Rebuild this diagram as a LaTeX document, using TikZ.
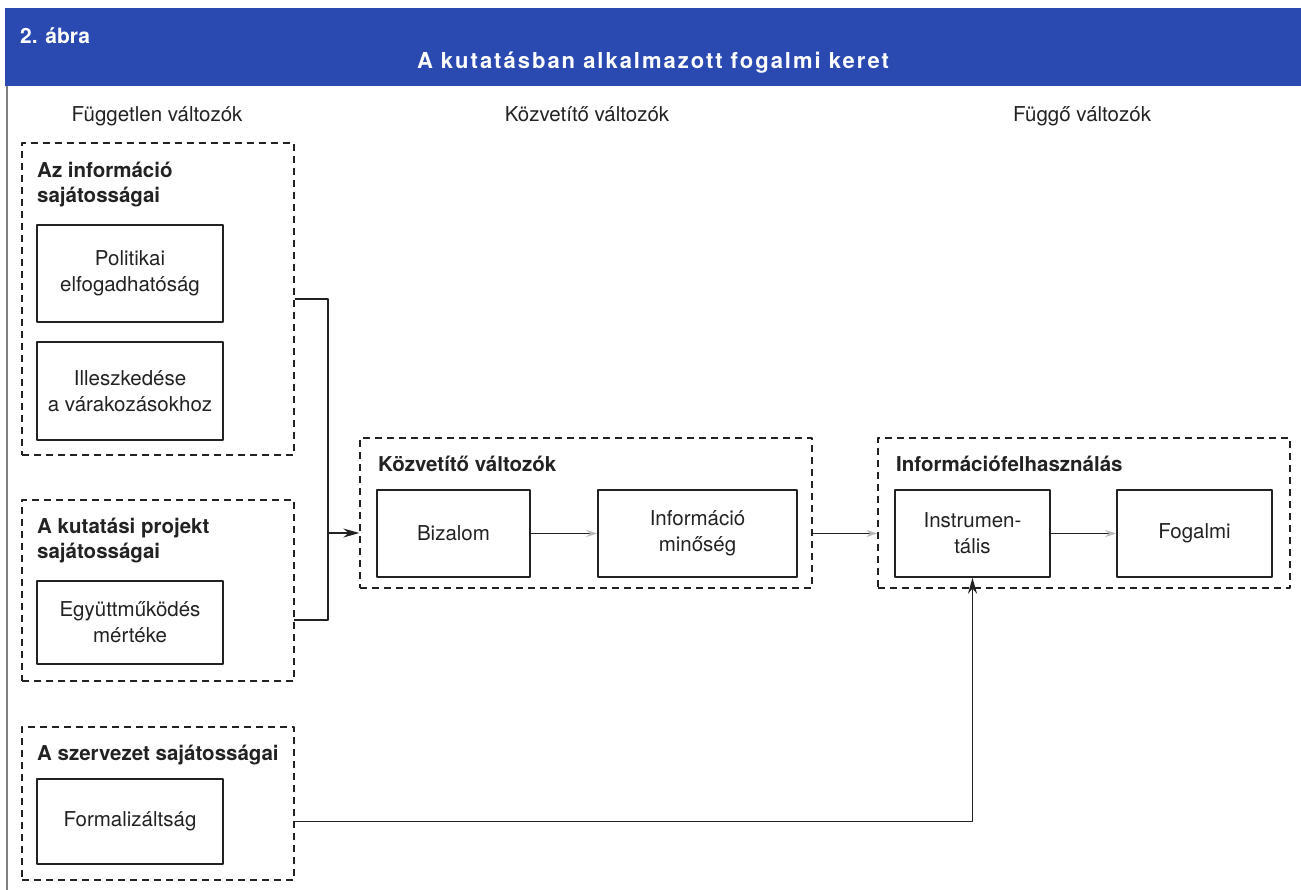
\documentclass[tikz,border=0pt]{standalone}
\usepackage{fontspec}
\setmainfont{TeX Gyre Heros}
\usetikzlibrary{arrows.meta}
\definecolor{headblue}{RGB}{42,74,178}
\definecolor{ink}{RGB}{34,34,34}
\begin{document}
\begin{tikzpicture}[x=1pt, y=-1pt, font=\fontsize{20.5}{26}\selectfont, line join=round, >={Stealth[length=16pt,width=9pt]},
		varbox/.style={draw=ink, line width=1.5pt, align=center, text=ink, inner sep=0pt},
		groupbox/.style={draw=ink, line width=1.3pt, dash pattern=on 7pt off 5pt, inner sep=0pt},
		grouptitle/.style={anchor=north west, align=left, text=ink, inner sep=0pt, font=\fontsize{20.5}{25}\selectfont\bfseries},
		colhead/.style={anchor=base, text=ink, inner sep=0pt},
		link/.style={draw=ink, line width=1.5pt},
		softarrow/.style={-{Stealth[length=11pt,width=7pt,color=gray!55]}}]
			\useasboundingbox (0,0) rectangle (1301,890);
			\fill[headblue] (5,8) rectangle (1301,86);
			\node[anchor=base west, text=white, inner sep=0pt, font=\fontsize{21}{24}\selectfont\bfseries] (fignum) at (20,44) {2. ábra};
			\node[anchor=base, text=white, inner sep=0pt, font=\fontsize{22}{26}\selectfont\bfseries\addfontfeatures{LetterSpace=9}] (figtitle) at (653,69) {A kutatásban alkalmazott fogalmi keret};
			\draw[gray, line width=1.5pt] (7,86) -- (7,890);
			\node[colhead] (indep) at (157,122) {Független változók};
			\node[colhead] (mediat) at (587,122) {Közvetítő változók};
			\node[colhead] (dep) at (1082,122) {Függő változók};
			\node[groupbox, minimum width=272pt, minimum height=312pt] (g1) at (158,299) {};
			\node[grouptitle] (t1) at (37,162) {Az információ\\sajátosságai};
			\node[varbox, minimum width=186pt, minimum height=97pt] (pol) at (130,273.5) {Politikai\\elfogadhatóság};
			\node[varbox, minimum width=186pt, minimum height=98pt] (ill) at (130,391) {Illeszkedése\\a várakozásokhoz};
			\node[groupbox, minimum width=272pt, minimum height=181pt] (g2) at (158,590.5) {};
			\node[grouptitle] (t2) at (37,518) {A kutatási projekt\\sajátosságai};
			\node[varbox, minimum width=186pt, minimum height=83pt] (egy) at (130,622.5) {Együttműködés\\mértéke};
			\node[groupbox, minimum width=272pt, minimum height=153pt] (g3) at (158,803.5) {};
			\node[grouptitle] (t3) at (37,745) {A szervezet sajátosságai};
			\node[varbox, minimum width=186pt, minimum height=85pt] (form) at (130,821.5) {Formalizáltság};
			\node[groupbox, minimum width=452pt, minimum height=150pt] (med) at (586,513) {};
			\node[grouptitle] (t4) at (378,456) {Közvetítő változók};
			\node[varbox, minimum width=153pt, minimum height=87pt] (biz) at (453.5,533.5) {Bizalom};
			\node[varbox, minimum width=199pt, minimum height=87pt] (inf) at (697.5,533.5) {Információ\\minőség};
			\node[groupbox, minimum width=412pt, minimum height=150pt] (use) at (1084,513) {};
			\node[grouptitle] (t5) at (896,456) {Információfelhasználás};
			\node[varbox, minimum width=155pt, minimum height=87pt] (ins) at (972.5,533.5) {Instrumen-\\tális};
			\node[varbox, minimum width=155pt, minimum height=87pt] (fog) at (1194.5,533.5) {Fogalmi};
			\coordinate (jn) at (328,533);
			\coordinate (g2in) at (294,620);
			\draw[link] (g1.east) -| (jn) |- (g2in);
			\draw[link, ->] (jn) -- (jn -| med.west);
			\draw[link, softarrow] (biz.east) -- (inf.west);
			\draw[link, softarrow] (inf.east -| med.east) -- (inf.east -| use.west);
			\draw[link, softarrow] (ins.east) -- (fog.west);
			\draw[link, ->] (form.east -| g3.east) -| (ins.south);
		\end{tikzpicture}
\end{document}
